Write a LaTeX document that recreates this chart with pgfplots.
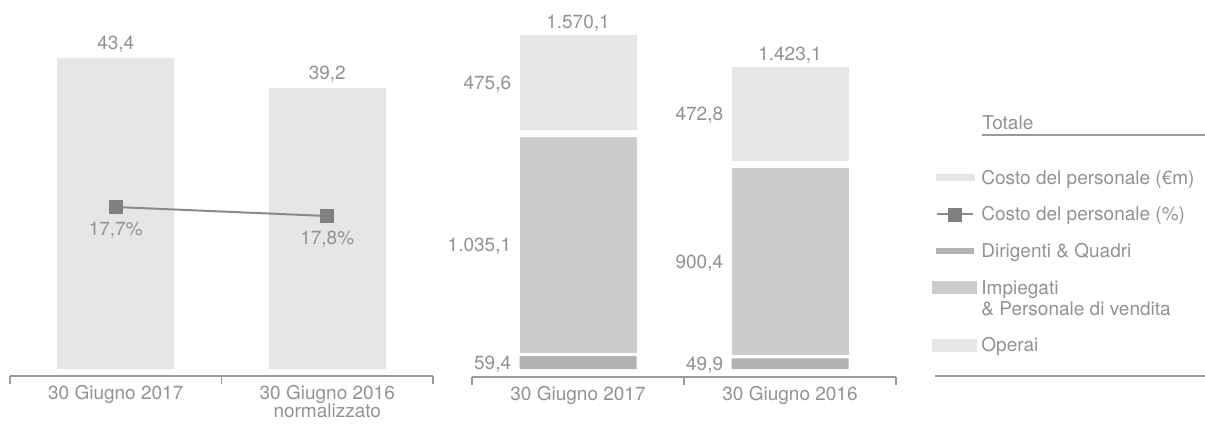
\documentclass[border=0pt]{standalone}
\usepackage{fontspec}
\setmainfont{TeX Gyre Heros}
\usepackage{pgfplots}
\pgfplotsset{compat=1.18}
\usetikzlibrary{calc}

\definecolor{textgray}{HTML}{929292}
\definecolor{rulegray}{HTML}{9A9A9A}
\definecolor{barlight}{HTML}{E6E6E6}
\definecolor{barmid}{HTML}{CCCCCC}
\definecolor{bardark}{HTML}{B3B3B3}
\definecolor{markgray}{HTML}{808080}
\definecolor{linegray}{HTML}{8A8A8A}

\newcommand{\chartfont}{\fontsize{9.5}{10.5}\selectfont}

\pgfkeys{/pgf/number format/.cd, use comma, 1000 sep={.}, fixed, fixed zerofill, precision=1, assume math mode=true}

\tikzset{lbl/.style={font=\chartfont, text=textgray, inner sep=0pt}}

\pgfplotsset{
  base/.style={
    scale only axis, clip=false,
    xmin=-0.5, xmax=1.5,
    axis x line=bottom, axis y line=none,
    axis line style={draw=rulegray, line width=0.6pt, -},
    tick align=outside,
    major tick length=0pt,
    minor tick length=4pt,
    minor xtick={-0.5,0.5,1.5},
    minor tick style={draw=rulegray, line width=0.6pt},
    xtick={0,1},
    ytick=\empty,
    xticklabel style={font=\fontsize{9.5}{9}\selectfont, text=textgray, align=center, yshift=-1.3pt},
  },
  overlay/.style={scale only axis, clip=false, hide axis, xmin=-0.5, xmax=1.5},
  patch/.style={legend image code/.code={\fill[#1] (0pt,1.7pt) rectangle (19pt,4.7pt);}},
}

\begin{document}
\begin{tikzpicture}
% costo del personale (EUR m)
\begin{axis}[base, name=L, width=211.5pt, height=168pt,
  ymin=-0.977, ymax=45.91,
  xticklabels={30 Giugno 2017, {30 Giugno 2016\\normalizzato}},
  ybar, bar width=58.5pt,
  nodes near coords,
  every node near coord/.append style={lbl, anchor=base, yshift=4.25pt},
]
\addplot[fill=barlight, draw=none] coordinates {(0,43.4) (1,39.2)};
\end{axis}
% costo del personale (%)
\begin{axis}[overlay, width=211.5pt, height=168pt,
  y dir=reverse, ymin=15.844, ymax=19.578,
  nodes near coords={\pgfmathprintnumber{\pgfplotspointmeta}\%},
  every node near coord/.append style={lbl, anchor=center, yshift=-11.5pt},
]
\addplot[linegray, line width=1pt, mark=square*, mark size=3pt,
  mark options={fill=markgray, draw=markgray}] coordinates {(0,17.7) (1,17.8)};
\end{axis}
% ripartizione per categoria
\begin{axis}[base, name=R, at={(231pt,-0.5pt)}, width=212pt, height=178.5pt,
  ymin=-37.2, ymax=1623.6,
  xticklabels={30 Giugno 2017, 30 Giugno 2016},
  ybar stacked,
  legend style={at={(1.08497,0.58263)}, anchor=north west, draw=none, fill=none,
    inner sep=0pt, row sep=9.5pt, font=\chartfont, text=textgray,
    nodes={inner sep=0pt},
    cells={anchor=base west, align=left},
    /tikz/every odd column/.append style={column sep=2pt}},
]
\addlegendimage{patch=barlight}
\addlegendentry{\strut Costo del personale (€m)}
\addlegendimage{legend image code/.code={
  \draw[linegray, line width=1pt] (0.5pt,3.2pt) -- (18.5pt,3.2pt);
  \fill[markgray] (6.25pt,-0.05pt) rectangle (12.75pt,6.45pt);}}
\addlegendentry{\strut Costo del personale (\%)}
\addplot[fill=bardark, draw=none, bar width=58.5pt, patch=bardark]
  coordinates {(0,59.4) (1,49.9)};
\addlegendentry{\strut Dirigenti \& Quadri}
\addplot[fill=barmid, draw=white, line width=3.5pt, bar width=62pt,
  legend image code/.code={\fill[barmid] (0pt,12.2pt) rectangle (19pt,15.2pt);}]
  coordinates {(0,1035.1) (1,900.4)};
\addlegendentry{\strut Impiegati\\\strut \& Personale di vendita}
\addplot[fill=barlight, draw=white, line width=3.5pt, bar width=62pt, patch=barlight]
  coordinates {(0,475.6) (1,472.8)};
\addlegendentry{\strut Operai}
\end{axis}
% etichette: totali sopra, voci a sinistra (al centro di ogni segmento)
\begin{axis}[overlay, at={(231pt,-0.5pt)}, width=212pt, height=178.5pt,
  ymin=-37.2, ymax=1623.6,
  nodes near coords,
  every node near coord/.append style={lbl, anchor=base, yshift=1.4pt},
]
\addplot[draw=none, mark=none] coordinates {(0,1570.1) (1,1423.1)};
\addplot[draw=none, mark=none, point meta=explicit,
  every node near coord/.append style={anchor=base east, xshift=-33.25pt, yshift=-4.75pt}]
  coordinates {(0,29.7) [59.4] (0,576.95) [1035.1] (0,1332.3) [475.6]
               (1,24.95) [49.9] (1,500.15) [900.4] (1,1186.7) [472.8]};
\end{axis}
% legenda: titolo e linee
\node[lbl, anchor=base west] at ($(R.south west)+(255pt,123.65pt)$) {Totale};
\draw[rulegray, line width=0.6pt] ($(R.south west)+(255pt,121pt)$) -- ++(111.5pt,0);
\draw[rulegray, line width=0.6pt] ($(R.south west)+(231.5pt,0.5pt)$) -- ++(135pt,0);
\pgfresetboundingbox
\path[use as bounding box] ($(R.south west)+(-236pt,-23.5pt)$) rectangle ++(602.5pt,212pt);
\end{tikzpicture}
\end{document}
